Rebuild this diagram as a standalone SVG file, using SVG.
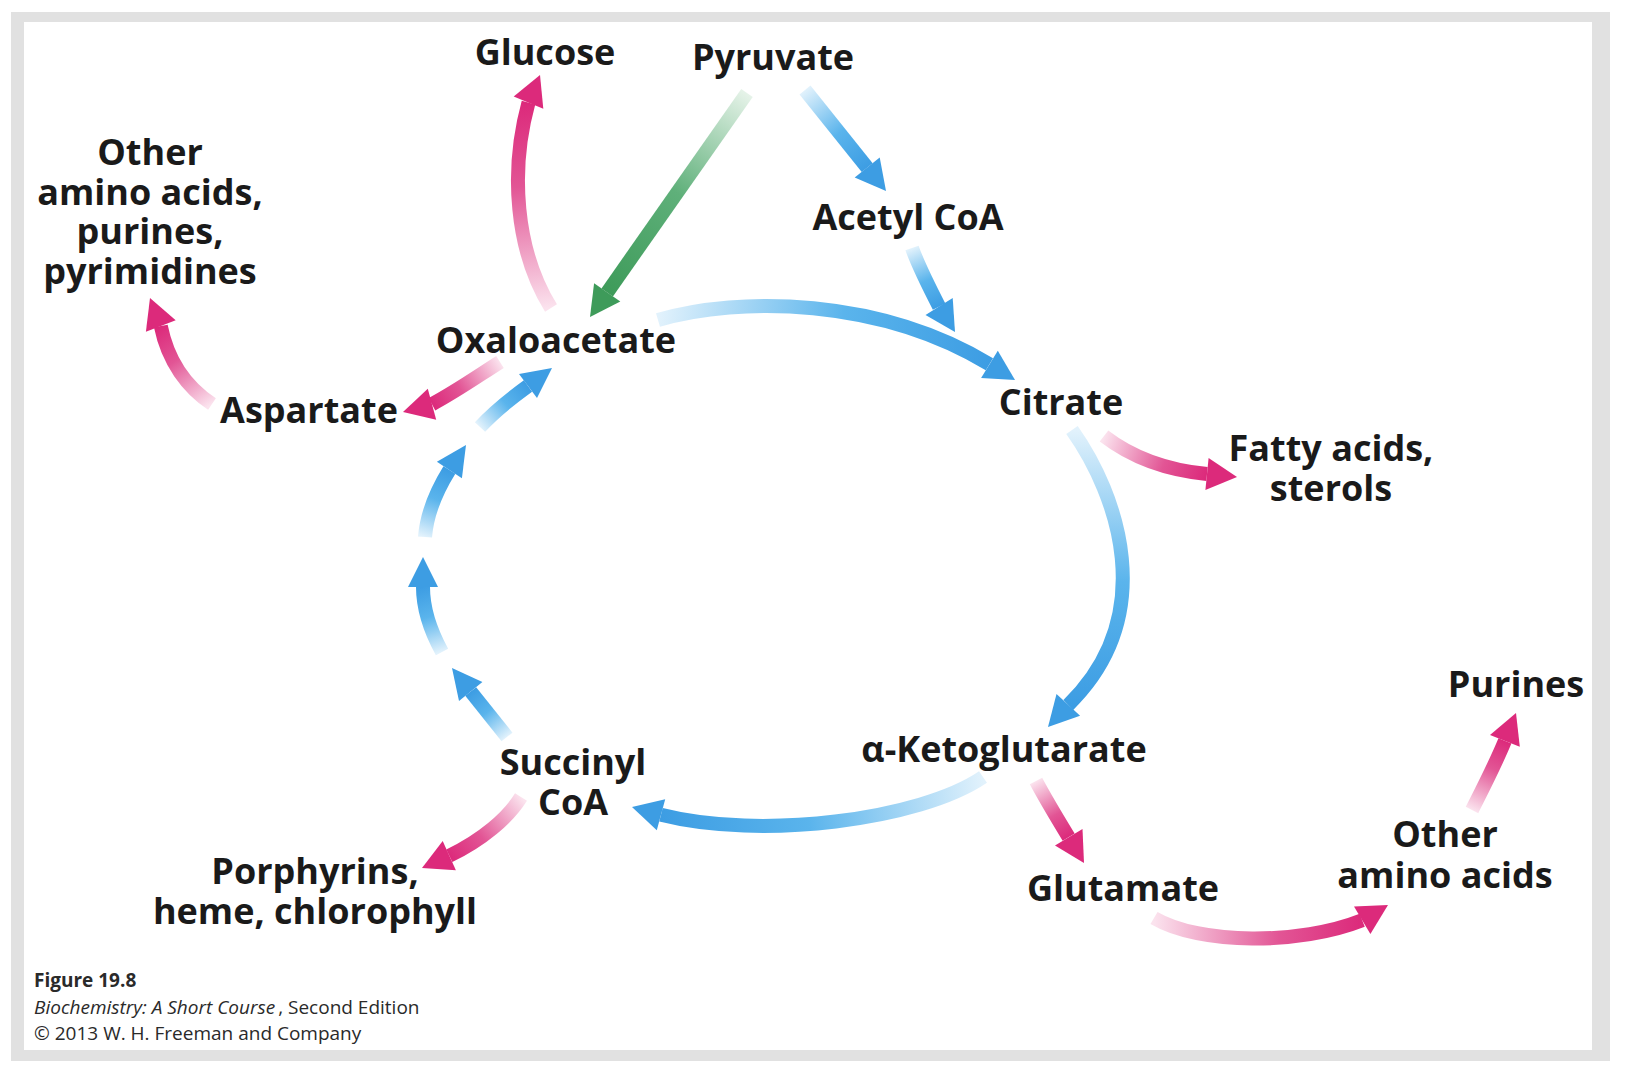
<svg xmlns="http://www.w3.org/2000/svg" xmlns:xlink="http://www.w3.org/1999/xlink" width="1628" height="1078" viewBox="0 0 1628 1078">
<style>
  .lbl { font-family: "Open Sans", "Liberation Sans", sans-serif; font-weight: 700; font-size: 36px; fill: #1a1a1a; text-anchor: middle; }
  .cap { font-family: "Open Sans", "Liberation Sans", sans-serif; font-size: 19px; fill: #2a2a2a; }
  .shaft { fill: none; stroke-width: 14; stroke-linecap: butt; }
  .hb { fill: #3d9de3; }
  .hp { fill: #dc2a7b; }
  .hg { fill: #3e9b5a; }
</style>
<defs>
  <linearGradient id="sB"><stop offset="0" stop-color="#e2f2fc"/><stop offset="0.55" stop-color="#5ab4ec"/><stop offset="1" stop-color="#3d9de3"/></linearGradient>
  <linearGradient id="sP"><stop offset="0" stop-color="#fbe3ee"/><stop offset="0.6" stop-color="#e25595"/><stop offset="1" stop-color="#dc2a7b"/></linearGradient>
  <linearGradient id="sG"><stop offset="0" stop-color="#e6f3e9"/><stop offset="0.5" stop-color="#5fb07a"/><stop offset="1" stop-color="#3e9b5a"/></linearGradient>
  <linearGradient id="g1" xlink:href="#sG" gradientUnits="userSpaceOnUse" x1="747" y1="93" x2="607" y2="292"/>
  <linearGradient id="g2" xlink:href="#sB" gradientUnits="userSpaceOnUse" x1="805" y1="90" x2="867" y2="168"/>
  <linearGradient id="g3" xlink:href="#sB" gradientUnits="userSpaceOnUse" x1="912" y1="248" x2="939" y2="307"/>
  <linearGradient id="g4" xlink:href="#sB" gradientUnits="userSpaceOnUse" x1="658" y1="320" x2="989" y2="364"/>
  <linearGradient id="g5" xlink:href="#sB" gradientUnits="userSpaceOnUse" x1="1072" y1="430" x2="1068" y2="705"/>
  <linearGradient id="g6" xlink:href="#sB" gradientUnits="userSpaceOnUse" x1="983" y1="777" x2="661" y2="815"/>
  <linearGradient id="g7a" xlink:href="#sB" gradientUnits="userSpaceOnUse" x1="507" y1="737" x2="471" y2="692"/>
  <linearGradient id="g7b" xlink:href="#sB" gradientUnits="userSpaceOnUse" x1="442" y1="652" x2="423" y2="587"/>
  <linearGradient id="g7c" xlink:href="#sB" gradientUnits="userSpaceOnUse" x1="425" y1="537" x2="449" y2="470"/>
  <linearGradient id="g7d" xlink:href="#sB" gradientUnits="userSpaceOnUse" x1="480" y1="427" x2="528" y2="386"/>
  <linearGradient id="g8" xlink:href="#sP" gradientUnits="userSpaceOnUse" x1="551" y1="308" x2="528" y2="103"/>
  <linearGradient id="g9" xlink:href="#sP" gradientUnits="userSpaceOnUse" x1="500" y1="362" x2="432" y2="404"/>
  <linearGradient id="g10" xlink:href="#sP" gradientUnits="userSpaceOnUse" x1="212" y1="404" x2="161" y2="326"/>
  <linearGradient id="g11" xlink:href="#sP" gradientUnits="userSpaceOnUse" x1="1104" y1="436" x2="1207" y2="474"/>
  <linearGradient id="g12" xlink:href="#sP" gradientUnits="userSpaceOnUse" x1="521" y1="797" x2="449" y2="856"/>
  <linearGradient id="g13" xlink:href="#sP" gradientUnits="userSpaceOnUse" x1="1036" y1="781" x2="1069" y2="837"/>
  <linearGradient id="g14" xlink:href="#sP" gradientUnits="userSpaceOnUse" x1="1154" y1="918" x2="1362" y2="920"/>
  <linearGradient id="g15" xlink:href="#sP" gradientUnits="userSpaceOnUse" x1="1472" y1="810" x2="1505" y2="741"/>
</defs>

<rect x="11" y="12" width="1599" height="1049" fill="#e1e1e1"/>
<rect x="24" y="22" width="1568" height="1028" fill="#ffffff"/>

<g id="connectors">
  <g id="pyruvate-oxaloacetate">
    <path class="shaft" stroke="url(#g1)" d="M747 93 L607.2 292.4"/>
    <polygon class="hg" points="590,317 620.3,301.6 594.1,283.2"/>
  </g>
  <g id="pyruvate-acetylcoa">
    <path class="shaft" stroke="url(#g2)" d="M805 90 L867.2 167.6"/>
    <polygon class="hb" points="886,191 854.7,177.6 879.7,157.6"/>
  </g>
  <g id="acetylcoa-citrate">
    <path class="shaft" stroke="url(#g3)" d="M912 248 C918 265 928 285 939.1 306.6"/>
    <polygon class="hb" points="955,332 925.5,315.1 952.7,298.1"/>
  </g>
  <g id="oxaloacetate-citrate">
    <path class="shaft" stroke="url(#g4)" d="M658 320 C740 296 880 298 989.4 364.3"/>
    <polygon class="hb" points="1015,380 981.1,378 997.8,350.7"/>
  </g>
  <g id="citrate-ketoglutarate">
    <path class="shaft" stroke="url(#g5)" d="M1072 430 C1118 495 1160 615 1068.3 704.9"/>
    <polygon class="hb" points="1048,727 1056.5,694.1 1080.1,715.7"/>
  </g>
  <g id="ketoglutarate-succinylcoa">
    <path class="shaft" stroke="url(#g6)" d="M983 777 C920 820 760 840 661 814.8"/>
    <polygon class="hb" points="632,807 665.2,799.3 656.8,830.3"/>
  </g>
  <g id="succinylcoa-oxaloacetate">
    <path class="shaft" stroke="url(#g7a)" d="M507 737 L470.7 691.5"/>
    <polygon class="hb" points="452,668 482.4,682.1 459,700.9"/>
    <path class="shaft" stroke="url(#g7b)" d="M442 652 C430 630 423 610 423 587"/>
    <polygon class="hb" points="423,557 438,587 408,587"/>
    <path class="shaft" stroke="url(#g7c)" d="M425 537 C427 512 437 490 449.4 470"/>
    <polygon class="hb" points="466,445 461.9,478.3 436.9,461.7"/>
    <path class="shaft" stroke="url(#g7d)" d="M480 427 C494 412 510 399 528 386"/>
    <polygon class="hb" points="552,368 537,398 519,374"/>
  </g>
  <g id="oxaloacetate-glucose">
    <path class="shaft" stroke="url(#g8)" d="M551 308 C515 250 510 170 528.5 102.7"/>
    <polygon class="hp" points="540,75 543.3,108.8 513.7,96.6"/>
  </g>
  <g id="oxaloacetate-aspartate">
    <path class="shaft" stroke="url(#g9)" d="M500 362 C475 378 455 392 432 404.2"/>
    <polygon class="hp" points="403,412 427.8,388.7 436.2,419.7"/>
  </g>
  <g id="aspartate-others">
    <path class="shaft" stroke="url(#g10)" d="M212 404 C188 388 168 362 160.8 326"/>
    <polygon class="hp" points="150,298 175.7,320.2 145.9,331.8"/>
  </g>
  <g id="citrate-fattyacids">
    <path class="shaft" stroke="url(#g11)" d="M1104 436 C1130 456 1165 470 1207 474"/>
    <polygon class="hp" points="1237,477 1205.4,489.9 1208.6,458.1"/>
  </g>
  <g id="succinylcoa-porphyrins">
    <path class="shaft" stroke="url(#g12)" d="M521 797 C508 818 482 840 449.3 855.7"/>
    <polygon class="hp" points="422,868 442.7,841.1 455.9,870.3"/>
  </g>
  <g id="ketoglutarate-glutamate">
    <path class="shaft" stroke="url(#g13)" d="M1036 781 C1046 800 1057 818 1068.7 837.2"/>
    <polygon class="hp" points="1084,863 1055,845.4 1082.5,829"/>
  </g>
  <g id="glutamate-otheraminoacids">
    <path class="shaft" stroke="url(#g14)" d="M1154 918 C1200 945 1300 945 1362.2 920.3"/>
    <polygon class="hp" points="1388,905 1370.4,934.1 1354,906.5"/>
  </g>
  <g id="otheraminoacids-purines">
    <path class="shaft" stroke="url(#g15)" d="M1472 810 C1482 790 1495 765 1504.9 740.9"/>
    <polygon class="hp" points="1516,713 1519.8,746.8 1490,735"/>
  </g>
</g>

<g id="glucose"><text class="lbl" x="545" y="65">Glucose</text></g>
<g id="pyruvate"><text class="lbl" x="773" y="70">Pyruvate</text></g>
<g id="other-left">
  <text class="lbl" x="150" y="165">Other<tspan x="150" dy="39.5">amino acids,</tspan><tspan x="150" dy="39.5">purines,</tspan><tspan x="150" dy="39.5">pyrimidines</tspan></text>
</g>
<g id="acetylcoa"><text class="lbl" x="908" y="230">Acetyl CoA</text></g>
<g id="oxaloacetate"><text class="lbl" x="556" y="353">Oxaloacetate</text></g>
<g id="citrate"><text class="lbl" x="1061" y="415">Citrate</text></g>
<g id="aspartate"><text class="lbl" x="309" y="423">Aspartate</text></g>
<g id="fattyacids">
  <text class="lbl" x="1331" y="461">Fatty acids,<tspan x="1331" dy="40">sterols</tspan></text>
</g>
<g id="purines"><text class="lbl" x="1516" y="697">Purines</text></g>
<g id="ketoglutarate"><text class="lbl" x="1004" y="762">α-Ketoglutarate</text></g>
<g id="succinylcoa">
  <text class="lbl" x="573" y="775">Succinyl<tspan x="573" dy="40">CoA</tspan></text>
</g>
<g id="other-right">
  <text class="lbl" x="1445" y="847">Other<tspan x="1445" dy="41">amino acids</tspan></text>
</g>
<g id="glutamate"><text class="lbl" x="1123" y="901">Glutamate</text></g>
<g id="porphyrins">
  <text class="lbl" x="315" y="884">Porphyrins,<tspan x="315" dy="40">heme, chlorophyll</tspan></text>
</g>

<g id="caption">
  <text class="cap" x="34" y="987" font-weight="700" font-size="19">Figure 19.8</text>
  <text class="cap" x="34" y="1014"><tspan font-style="italic">Biochemistry: A Short Course</tspan><tspan dx="3">, Second Edition</tspan></text>
  <text class="cap" x="34" y="1040">© 2013 W. H. Freeman and Company</text>
</g>
</svg>
